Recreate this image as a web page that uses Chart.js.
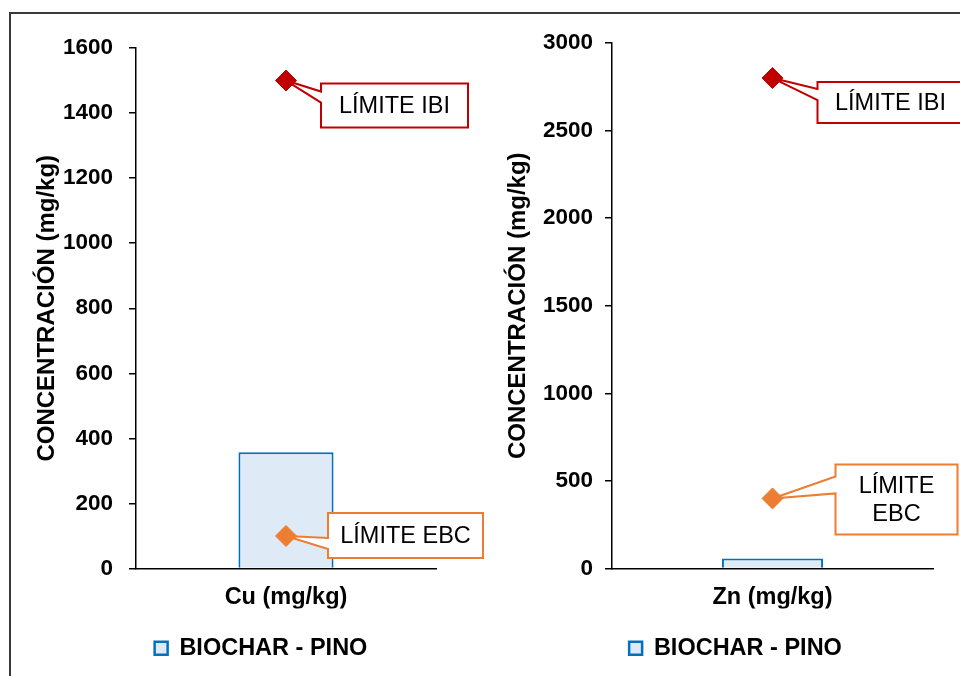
<!DOCTYPE html>
<html>
<head>
<meta charset="utf-8">
<script src="https://cdn.jsdelivr.net/npm/chart.js@4.4.1/dist/chart.umd.min.js"></script>
<style>
html,body{margin:0;padding:0;width:960px;height:676px;overflow:hidden;background:#fff;}
#frame{position:absolute;left:9px;top:12px;width:1000px;height:720px;border:2px solid #3a3a3a;box-sizing:border-box;}
.box{position:absolute;top:0;height:676px;}
#b1{left:0;width:490px;}
#b2{left:480px;width:480px;}
</style>
</head>
<body>
<div id="frame"></div>
<div class="box" id="b1"><canvas id="c1" width="490" height="676"></canvas></div>
<div class="box" id="b2"><canvas id="c2" width="480" height="676"></canvas></div>
<script>
// ---- data ----
const seriesName = 'BIOCHAR - PINO';
const yAxisTitle = 'CONCENTRACIÓN (mg/kg)';

const cuCategories = ['Cu (mg/kg)'];
const cuBiochar = [357];
const cuLimitIBI = [1500];
const cuLimitEBC = [100];
const cuTicks = [0, 200, 400, 600, 800, 1000, 1200, 1400, 1600];
const cuTextIBI = ['LÍMITE IBI'];
const cuTextEBC = ['LÍMITE EBC'];

const znCategories = ['Zn (mg/kg)'];
const znBiochar = [57];
const znLimitIBI = [2800];
const znLimitEBC = [400];
const znTicks = [0, 500, 1000, 1500, 2000, 2500, 3000];
const znTextIBI = ['LÍMITE IBI'];
const znTextEBC = ['LÍMITE', 'EBC'];

// ---- styles ----
const FONT = "'Liberation Sans', Arial, sans-serif";
const RED = '#C00000';
const ORANGE = '#ED7D31';
const BAR_FILL = '#DEEBF7';
const BAR_LINE = '#0070C0';

const calloutPlugin = {
  id: 'callouts',
  afterDatasetDraw(chart, args, opts) {
    if (args.meta.type !== 'bar') return;
    const ctx = chart.ctx;
    (opts.items || []).forEach(it => {
      const pt = chart.getDatasetMeta(it.dataset).data[0];
      if (!pt) return;
      const px = pt.x, py = pt.y;
      const bx = px + it.dx, by = py + it.dy;
      ctx.save();
      ctx.beginPath();
      ctx.moveTo(bx, by);
      ctx.lineTo(bx + it.w, by);
      ctx.lineTo(bx + it.w, by + it.h);
      ctx.lineTo(bx, by + it.h);
      ctx.lineTo(bx, by + it.w2);
      ctx.lineTo(px, py);
      ctx.lineTo(bx, by + it.w1);
      ctx.closePath();
      ctx.fillStyle = '#fff';
      ctx.fill();
      ctx.lineWidth = 2;
      ctx.miterLimit = 2;
      ctx.strokeStyle = it.color;
      ctx.stroke();
      ctx.fillStyle = '#000';
      ctx.font = '23.5px ' + FONT;
      ctx.textAlign = 'center';
      ctx.textBaseline = 'middle';
      const lh = 28;
      const n = it.text.length;
      it.text.forEach((t, i) => {
        ctx.fillText(t, bx + it.w / 2, by + it.h / 2 + (i - (n - 1) / 2) * lh + 1);
      });
      ctx.restore();
    });
  }
};

const legendShift = {
  id: 'legendShift',
  afterLayout(chart, args, opts) {
    if (chart.legend && opts.dx) {
      chart.legend.left += opts.dx;
      chart.legend.right += opts.dx;
    }
  }
};

function makeChart(id, c) {
  return new Chart(document.getElementById(id), {
    type: 'bar',
    plugins: [calloutPlugin, legendShift],
    data: {
      labels: c.categories,
      datasets: [
        { type: 'line', label: c.ibiText.join(' '), data: c.ibi, showLine: false,
          pointStyle: 'rectRot', pointRadius: 10.5, pointBorderWidth: 1,
          pointBackgroundColor: RED, pointBorderColor: RED, order: 1 },
        { type: 'line', label: c.ebcText.join(' '), data: c.ebc, showLine: false,
          pointStyle: 'rectRot', pointRadius: 10.5, pointBorderWidth: 1,
          pointBackgroundColor: ORANGE, pointBorderColor: ORANGE, order: 1 },
        { type: 'bar', label: seriesName, data: c.values,
          backgroundColor: BAR_FILL, borderColor: BAR_LINE, borderWidth: 2,
          barPercentage: c.barPct, categoryPercentage: 1, order: 2 }
      ]
    },
    options: {
      responsive: false,
      devicePixelRatio: 1,
      animation: false,
      events: [],
      layout: { padding: { left: 0, top: c.padTop, right: c.padRight, bottom: 6 } },
      scales: {
        x: {
          grid: { display: false, drawTicks: false },
          border: { display: true, color: '#000', width: 1.5 },
          ticks: { color: '#000', padding: 15, font: { family: FONT, size: 23.5, weight: 'bold' } },
          afterFit: s => { s.height = 40; }
        },
        y: {
          min: c.ticks[0],
          max: c.ticks[c.ticks.length - 1],
          afterBuildTicks: s => { s.ticks = c.ticks.map(v => ({ value: v })); },
          grid: { drawOnChartArea: false, drawTicks: true, tickLength: 7, color: '#000', lineWidth: 1.5 },
          border: { display: true, color: '#000', width: 1.5 },
          ticks: { color: '#000', padding: c.tickPad, callback: v => String(v),
                   font: { family: FONT, size: 22.5, weight: 'bold' } },
          title: { display: true, text: yAxisTitle, color: '#000',
                   font: { family: FONT, size: 24, weight: 'bold' },
                   padding: { top: c.titlePad, bottom: 0 } },
          afterFit: s => { s.width = c.yWidth; }
        }
      },
      plugins: {
        tooltip: { enabled: false },
        legend: {
          position: 'bottom',
          labels: {
            color: '#000', boxWidth: 13, boxHeight: 13, padding: 28,
            font: { family: FONT, size: 23.5, weight: 'bold' },
            filter: item => item.datasetIndex === 2,
            generateLabels: chart => [{
              text: seriesName, datasetIndex: 2, fillStyle: BAR_FILL,
              strokeStyle: BAR_LINE, lineWidth: 2.5, hidden: false, fontColor: '#000'
            }]
          }
        },
        legendShift: { dx: c.legendDx },
        callouts: { items: c.callouts }
      }
    }
  });
}

makeChart('c1', {
  categories: cuCategories, values: cuBiochar, ibi: cuLimitIBI, ebc: cuLimitEBC,
  ticks: cuTicks, ibiText: cuTextIBI, ebcText: cuTextEBC,
  barPct: 0.317, padTop: 48, padRight: 54, yWidth: 136, tickPad: 16, titlePad: 33,
  legendDx: 43,
  callouts: [
    { dataset: 0, color: RED, text: cuTextIBI, dx: 35, dy: 3, w: 147, h: 44, w1: 8, w2: 19 },
    { dataset: 1, color: ORANGE, text: cuTextEBC, dx: 42, dy: -23, w: 155, h: 45, w1: 25, w2: 36 }
  ]
});

makeChart('c2', {
  categories: znCategories, values: znBiochar, ibi: znLimitIBI, ebc: znLimitEBC,
  ticks: znTicks, ibiText: znTextIBI, ebcText: znTextEBC,
  barPct: 0.315, padTop: 43, padRight: 27, yWidth: 132, tickPad: 12, titlePad: 24,
  legendDx: 29,
  callouts: [
    { dataset: 0, color: RED, text: znTextIBI, dx: 45, dy: 4, w: 146, h: 41, w1: 7, w2: 18 },
    { dataset: 1, color: ORANGE, text: znTextEBC, dx: 63, dy: -34, w: 122, h: 70, w1: 12, w2: 29 }
  ]
});
</script>
</body>
</html>
